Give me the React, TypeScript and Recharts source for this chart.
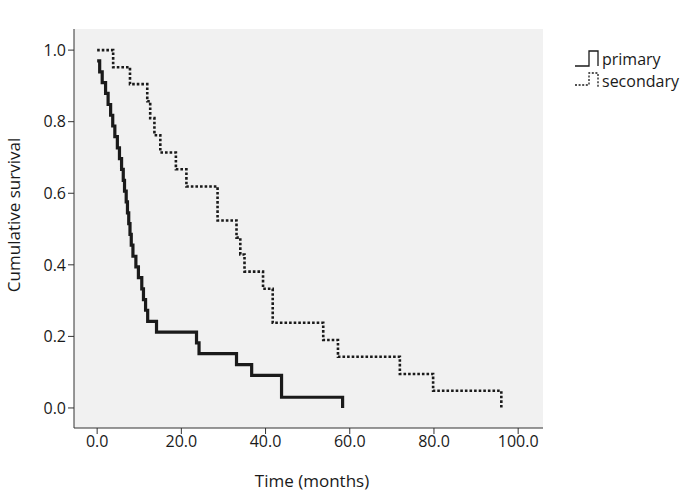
import { LineChart, Line, XAxis, YAxis, CartesianGrid } from "recharts";

// Kaplan-Meier estimates (time in months, survival after each event)
const primaryTime = [
  0, 0.6, 1.2, 2.0, 2.6, 3.2, 3.7, 4.2, 4.8, 5.3, 5.8, 6.2, 6.5, 6.9, 7.2, 7.5, 7.8,
  8.1, 8.5, 9.2, 9.8, 10.6, 11.0, 11.5, 12.0, 14.1, 23.6, 24.2, 33.1, 36.7, 43.8, 58.3,
];
const primarySurv = [
  0.970, 0.939, 0.909, 0.879, 0.848, 0.818, 0.788, 0.758, 0.727, 0.697, 0.667, 0.636,
  0.606, 0.576, 0.545, 0.515, 0.485, 0.455, 0.424, 0.394, 0.364, 0.333, 0.303, 0.273,
  0.242, 0.212, 0.182, 0.152, 0.121, 0.091, 0.030, 0.0,
];

const secondaryTime = [
  0, 3.8, 7.8, 11.9, 12.6, 13.6, 15.0, 18.7, 21.2, 28.6, 33.1, 34.0, 35.0, 39.4, 41.7,
  53.7, 57.2, 71.9, 79.8, 96.0,
];
const secondarySurv = [
  1.0, 0.952, 0.905, 0.857, 0.810, 0.762, 0.714, 0.667, 0.619, 0.524, 0.476, 0.429,
  0.381, 0.333, 0.238, 0.190, 0.143, 0.095, 0.048, 0.0,
];

const xTicks = [0, 20, 40, 60, 80, 100];
const yTicks = [0, 0.2, 0.4, 0.6, 0.8, 1.0];

const primaryData = primaryTime.map((t, i) => ({ t, s: primarySurv[i] }));
const secondaryData = secondaryTime.map((t, i) => ({ t, s: secondarySurv[i] }));

const font = "'Open Sans', sans-serif";
const ink = "#1a1a1a";

// step-shaped legend keys like the SPSS output
function KmLegend() {
  return (
    <svg
      width={118}
      height={52}
      style={{ position: "absolute", left: 570, top: 46, fontFamily: font }}
    >
      <path d="M5 20 H19 V5 H28 V20" fill="none" stroke={ink} strokeWidth={1.3} />
      <path
        d="M5 39 H19 V27 H28 V41"
        fill="none"
        stroke={ink}
        strokeWidth={1.3}
        strokeDasharray="2 1.6"
      />
      <text x={32} y={19} fontSize={16} fill={ink}>primary</text>
      <text x={32} y={41} fontSize={16} fill={ink}>secondary</text>
    </svg>
  );
}

export default function App() {
  return (
    <div style={{ position: "fixed", left: 0, top: 0, width: 690, height: 499, background: "#fff" }}>
      <LineChart
        width={690}
        height={499}
        margin={{ top: 29, right: 147, bottom: 41, left: 14 }}
      >
        <CartesianGrid fill="#f1f1f1" stroke="none" horizontal={false} vertical={false} />
        <XAxis
          type="number"
          dataKey="t"
          domain={[-5.5, 105.9]}
          ticks={xTicks}
          allowDataOverflow
          height={30}
          tickSize={6}
          tickFormatter={(v: number) => v.toFixed(1)}
          tick={{ fill: ink, fontSize: 16, fontFamily: font }}
          axisLine={{ stroke: "#333" }}
          tickLine={{ stroke: "#333" }}
          label={{
            content: () => (
              <text x={312} y={487} textAnchor="middle" fontSize={17} fontFamily={font} fill={ink}>
                Time (months)
              </text>
            ),
          }}
        />
        <YAxis
          type="number"
          domain={[-0.056, 1.059]}
          ticks={yTicks}
          allowDataOverflow
          width={60}
          tickSize={6}
          tickFormatter={(v: number) => v.toFixed(1)}
          tick={{ fill: ink, fontSize: 16, fontFamily: font }}
          axisLine={{ stroke: "#333" }}
          tickLine={{ stroke: "#333" }}
          label={{
            content: () => (
              <text
                x={20}
                y={215}
                transform="rotate(-90 20 215)"
                textAnchor="middle"
                fontSize={17}
                fontFamily={font}
                fill={ink}
              >
                Cumulative survival
              </text>
            ),
          }}
        />
        <Line
          data={secondaryData}
          dataKey="s"
          type="stepAfter"
          stroke={ink}
          strokeWidth={2.6}
          strokeDasharray="2.6 2"
          dot={false}
          activeDot={false}
          isAnimationActive={false}
        />
        <Line
          data={primaryData}
          dataKey="s"
          type="stepAfter"
          stroke={ink}
          strokeWidth={3.2}
          dot={false}
          activeDot={false}
          isAnimationActive={false}
        />
      </LineChart>
      <KmLegend />
    </div>
  );
}
